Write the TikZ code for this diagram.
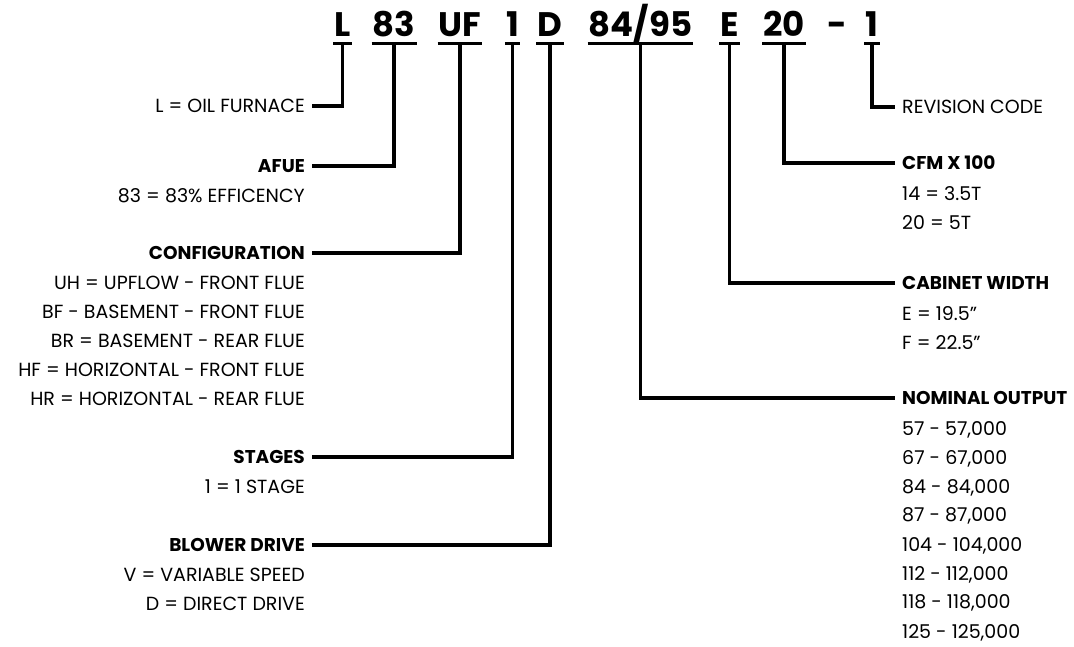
\documentclass[tikz,border=0pt]{standalone}
\usepackage{fontspec}
\setmainfont{Poppins}
\usetikzlibrary{positioning}

\begin{document}
\begin{tikzpicture}[x=1pt, y=-1pt,
    code/.style={inner xsep=1pt, inner ysep=0pt, anchor=base, text depth=0pt,
        font=\fontsize{34}{34}\selectfont\bfseries},
    head/.style={inner sep=0pt, font=\fontsize{18.5}{29}\selectfont\bfseries},
    info/.style={inner sep=0pt, font=\fontsize{19}{29}\selectfont},
    link/.style={line width=3.2pt}]
    \useasboundingbox (0,0) rectangle (1074,647);

    % model number
    \node [code] (cL) at (342.5,37) {L};
    \node [code] (c83) at (394,37) {83};
    \node [code] (cUF) at (460,37) {UF};
    \node [code] (cSt) at (512.5,37) {1};
    \node [code] (cD) at (550,37) {D};
    \node [code] (cOut) at (640.5,37) {84/95};
    \node [code] (cE) at (729.5,37) {E};
    \node [code] (c20) at (784,37) {20};
    \node [code] (cDash) at (837,37) {-};
    \node [code] (cRev) at (872,37) {1};

    % underlines
    \foreach \seg in {cL, c83, cUF, cSt, cD, cOut, cE, c20, cRev} {
        \draw [link] ([yshift=-6pt]\seg.south west) -- ([yshift=-6pt]\seg.south east);
        \coordinate (u\seg) at ([yshift=-6pt]\seg.south);
    }

    % left side
    \node [info, anchor=east] (lOil) at (305,106) {L = OIL FURNACE};
    \node [head, anchor=east] (lAfue) at (305,166) {AFUE};
    \node [info, align=right, below left=16pt and 0pt of lAfue.south east] (dAfue) {83 = 83\% EFFICENCY};
    \node [head, anchor=east] (lCfg) at (305,253) {CONFIGURATION};
    \node [info, align=right, below left=16pt and 0pt of lCfg.south east] (dCfg)
        {UH = UPFLOW - FRONT FLUE\\BF - BASEMENT - FRONT FLUE\\BR = BASEMENT - REAR FLUE\\HF = HORIZONTAL - FRONT FLUE\\HR = HORIZONTAL - REAR FLUE};
    \node [head, anchor=east] (lStg) at (305,457) {STAGES};
    \node [info, align=right, below left=16pt and 0pt of lStg.south east] (dStg) {1 = 1 STAGE};
    \node [head, anchor=east] (lBlw) at (305,545) {BLOWER DRIVE};
    \node [info, align=right, below left=16pt and 0pt of lBlw.south east] (dBlw)
        {V = VARIABLE SPEED\\D = DIRECT DRIVE};

    % right side
    \node [info, anchor=west] (lRev) at (902,107) {REVISION CODE};
    \node [head, anchor=west] (lCfm) at (902,163) {CFM X 100};
    \node [info, align=left, below right=16pt and 0pt of lCfm.south west] (dCfm)
        {14 = 3.5T\\20 = 5T};
    \node [head, anchor=west] (lCab) at (902,283) {CABINET WIDTH};
    \node [info, align=left, below right=16pt and 0pt of lCab.south west] (dCab)
        {E = 19.5”\\F = 22.5”};
    \node [head, anchor=west] (lNom) at (902,398) {NOMINAL OUTPUT};
    \node [info, align=left, below right=16pt and 0pt of lNom.south west] (dNom)
        {57 - 57,000\\67 - 67,000\\84 - 84,000\\87 - 87,000\\104 - 104,000\\112 - 112,000\\118 - 118,000\\125 - 125,000};

    % connectors
    \draw [link] (ucL) |- ([xshift=7pt]lOil.east);
    \draw [link] (uc83) |- ([xshift=7pt]lAfue.east);
    \draw [link] (ucUF) |- ([xshift=7pt]lCfg.east);
    \draw [link] (ucSt) |- ([xshift=7pt]lStg.east);
    \draw [link] (ucD) |- ([xshift=7pt]lBlw.east);
    \draw [link] (ucOut) |- ([xshift=-7pt]lNom.west);
    \draw [link] (ucE) |- ([xshift=-7pt]lCab.west);
    \draw [link] (uc20) |- ([xshift=-7pt]lCfm.west);
    \draw [link] (ucRev) |- ([xshift=-7pt]lRev.west);
\end{tikzpicture}
\end{document}
